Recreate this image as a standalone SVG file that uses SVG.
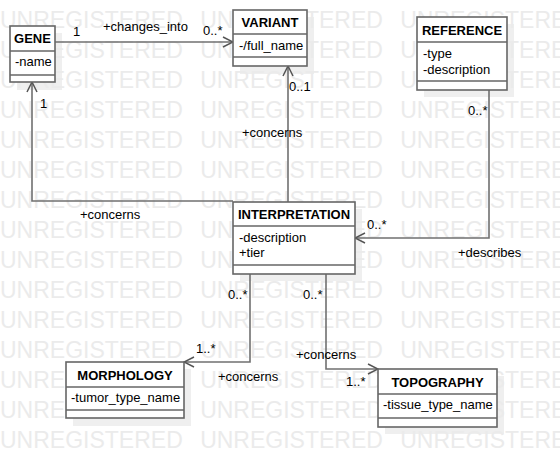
<svg xmlns="http://www.w3.org/2000/svg" width="560" height="467" viewBox="0 0 560 467">
<defs>
<style>
.wm{font-family:"Liberation Sans",Arial,sans-serif;font-size:23px;fill:#ebebeb;word-spacing:11px}
.sh{fill:#efefef}
.box{fill:#fff;stroke:#666;stroke-width:1.6}
.sep{stroke:#666;stroke-width:1.6}
.title{font-family:"Liberation Sans",Arial,sans-serif;font-size:13px;font-weight:bold;fill:#000;text-anchor:middle}
.attr{font-family:"Liberation Sans",Arial,sans-serif;font-size:13px;fill:#000}
.lbl{font-family:"Liberation Sans",Arial,sans-serif;font-size:13px;fill:#000}
.con{fill:none;stroke:#707070;stroke-width:1.6}
</style>
<marker id="open" viewBox="0 0 12 12" refX="11" refY="6" markerWidth="12" markerHeight="12" markerUnits="userSpaceOnUse" orient="auto">
<path d="M1,1 L11,6 L1,11" fill="none" stroke="#555" stroke-width="1.5"/>
</marker>
</defs>
<rect width="560" height="467" fill="#fff"/>
<g id="shadows">
<rect class="sh" x="17" y="33" width="45" height="57"/>
<rect class="sh" x="240" y="17" width="74" height="57"/>
<rect class="sh" x="424" y="24" width="90" height="73"/>
<rect class="sh" x="240" y="209" width="122" height="72"/>
<rect class="sh" x="73" y="369" width="118" height="57"/>
<rect class="sh" x="385" y="376" width="119" height="58"/>
</g>
<g id="watermark">
<text class="wm" x="0" y="28">UNREGISTERED UNREGISTERED UNREGISTERED</text>
<text class="wm" x="0" y="58">UNREGISTERED UNREGISTERED UNREGISTERED</text>
<text class="wm" x="0" y="88">UNREGISTERED UNREGISTERED UNREGISTERED</text>
<text class="wm" x="0" y="118">UNREGISTERED UNREGISTERED UNREGISTERED</text>
<text class="wm" x="0" y="148">UNREGISTERED UNREGISTERED UNREGISTERED</text>
<text class="wm" x="0" y="178">UNREGISTERED UNREGISTERED UNREGISTERED</text>
<text class="wm" x="0" y="208">UNREGISTERED UNREGISTERED UNREGISTERED</text>
<text class="wm" x="0" y="238">UNREGISTERED UNREGISTERED UNREGISTERED</text>
<text class="wm" x="0" y="268">UNREGISTERED UNREGISTERED UNREGISTERED</text>
<text class="wm" x="0" y="298">UNREGISTERED UNREGISTERED UNREGISTERED</text>
<text class="wm" x="0" y="328">UNREGISTERED UNREGISTERED UNREGISTERED</text>
<text class="wm" x="0" y="358">UNREGISTERED UNREGISTERED UNREGISTERED</text>
<text class="wm" x="0" y="388">UNREGISTERED UNREGISTERED UNREGISTERED</text>
<text class="wm" x="0" y="418">UNREGISTERED UNREGISTERED UNREGISTERED</text>
<text class="wm" x="0" y="448">UNREGISTERED UNREGISTERED UNREGISTERED</text>
</g>
<g id="connectors">
<path class="con" d="M55,42 L233,42" marker-end="url(#open)"/>
<path class="con" d="M233,201 L32,201 L32,82" marker-end="url(#open)"/>
<path class="con" d="M288,202 L288,66" marker-end="url(#open)"/>
<path class="con" d="M489,90 L489,238 L355,238" marker-end="url(#open)"/>
<path class="con" d="M250,274 L250,362 L184,362" marker-end="url(#open)"/>
<path class="con" d="M326,274 L326,369 L378,369" marker-end="url(#open)"/>
<text class="lbl" x="73" y="36">1</text>
<text class="lbl" x="103" y="31">+changes_into</text>
<text class="lbl" x="203" y="35">0..*</text>
<text class="lbl" x="40" y="108">1</text>
<text class="lbl" x="289" y="91">0..1</text>
<text class="lbl" x="242" y="137">+concerns</text>
<text class="lbl" x="80" y="219">+concerns</text>
<text class="lbl" x="468" y="115">0..*</text>
<text class="lbl" x="367" y="229">0..*</text>
<text class="lbl" x="458" y="257">+describes</text>
<text class="lbl" x="228" y="299">0..*</text>
<text class="lbl" x="303" y="299">0..*</text>
<text class="lbl" x="196" y="353">1..*</text>
<text class="lbl" x="218" y="381">+concerns</text>
<text class="lbl" x="296" y="359">+concerns</text>
<text class="lbl" x="346" y="386">1..*</text>
</g>
<g id="gene">
<rect class="box" x="10" y="26" width="45" height="56"/>
<line class="sep" x1="10" y1="51" x2="55" y2="51"/>
<line class="sep" x1="10" y1="75" x2="55" y2="75"/>
<text class="title" x="32.5" y="43">GENE</text>
<text class="attr" x="15" y="66">-name</text>
</g>
<g id="variant">
<rect class="box" x="233" y="10" width="74" height="56"/>
<line class="sep" x1="233" y1="34" x2="307" y2="34"/>
<line class="sep" x1="233" y1="57" x2="307" y2="57"/>
<text class="title" x="270" y="27">VARIANT</text>
<text class="attr" x="239" y="50">-/full_name</text>
</g>
<g id="reference">
<rect class="box" x="417" y="17" width="90" height="73"/>
<line class="sep" x1="417" y1="42" x2="507" y2="42"/>
<line class="sep" x1="417" y1="81" x2="507" y2="81"/>
<text class="title" x="462" y="35">REFERENCE</text>
<text class="attr" x="423" y="58">-type</text>
<text class="attr" x="423" y="74">-description</text>
</g>
<g id="interpretation">
<rect class="box" x="233" y="202" width="122" height="72"/>
<line class="sep" x1="233" y1="226" x2="355" y2="226"/>
<line class="sep" x1="233" y1="265" x2="355" y2="265"/>
<text class="title" x="294" y="219">INTERPRETATION</text>
<text class="attr" x="239" y="242">-description</text>
<text class="attr" x="239" y="257">+tier</text>
</g>
<g id="morphology">
<rect class="box" x="66" y="362" width="118" height="56"/>
<line class="sep" x1="66" y1="387" x2="184" y2="387"/>
<line class="sep" x1="66" y1="410" x2="184" y2="410"/>
<text class="title" x="125" y="380">MORPHOLOGY</text>
<text class="attr" x="71" y="402">-tumor_type_name</text>
</g>
<g id="topography">
<rect class="box" x="378" y="369" width="119" height="58"/>
<line class="sep" x1="378" y1="394" x2="497" y2="394"/>
<line class="sep" x1="378" y1="418" x2="497" y2="418"/>
<text class="title" x="437.5" y="387">TOPOGRAPHY</text>
<text class="attr" x="383" y="409">-tissue_type_name</text>
</g>
</svg>
